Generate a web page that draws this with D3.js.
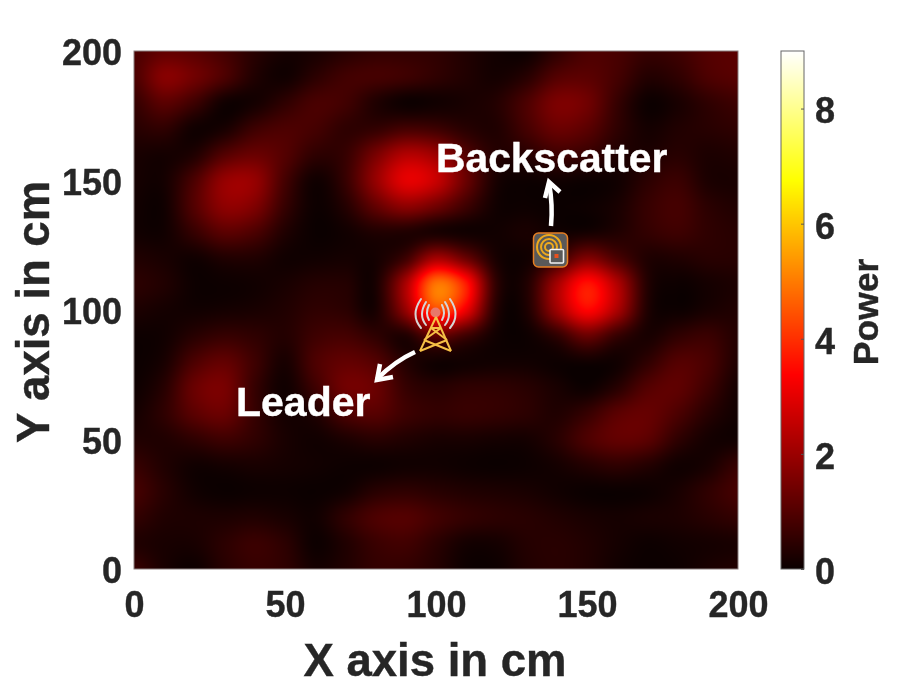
<!DOCTYPE html>
<html>
<head>
<meta charset="utf-8">
<script src="https://cdn.jsdelivr.net/npm/d3@7"></script>
<style>
  html, body { margin: 0; padding: 0; background: #fff; }
  #wrap { position: relative; width: 913px; height: 685px; overflow: hidden; }
  canvas, svg { position: absolute; left: 0; top: 0; }
  text { font-family: "Liberation Sans", Arial, sans-serif; font-weight: bold; }
</style>
</head>
<body>
<div id="wrap">
  <canvas id="heat" width="913" height="685"></canvas>
  <svg id="chart" width="913" height="685"></svg>
</div>
<script>
// grid positions, every 10 cm
const xValues = d3.range(0, 201, 10);
const yValues = d3.range(200, -1, -10);

// power at each grid point, top row is y = 200
const power = [
  [.9,1.2,1.1,.8,.4,.15,.2,.4,.55,.55,.5,.3,.1,.05,.5,.9,.85,.6,.7,1.0,1.1],
  [.9,1.7,1.4,.9,.3,.1,.45,.75,.8,.7,.5,.3,.15,.4,1.0,1.1,.8,.35,.5,.9,1.05],
  [.6,1.1,.7,.1,.15,.5,.85,.75,.3,.05,.1,.2,.35,.9,1.55,1.4,.6,.05,.2,.5,.7],
  [.4,.5,.1,.2,.7,.9,.8,.5,.55,.8,.7,.4,.3,.8,1.3,1.1,.5,.15,.3,.4,.5],
  [.2,.15,.3,1.0,1.3,1.0,.5,.6,1.5,2.3,2.0,1.0,.35,.4,.7,.6,.3,.25,.4,.25,.3],
  [.15,.15,.9,1.9,1.9,.8,.1,.6,1.9,3.0,2.6,1.3,.2,.05,.1,.05,.1,.45,.65,.25,.2],
  [.1,.1,1.0,1.8,1.6,.6,.05,.35,1.2,1.8,1.4,.7,.1,.05,.02,.05,.2,.6,.8,.45,.3],
  [.1,.1,.6,1.1,.9,.3,.02,.1,.3,.3,.2,.1,.1,.2,.1,.15,.3,.55,.7,.5,.4],
  [.3,.2,.1,.3,.3,.1,.1,.15,.15,.7,2.1,1.3,.2,.1,.6,1.6,.9,.3,.3,.4,.4],
  [.45,.3,.05,.05,.1,.2,.35,.35,.2,2.2,4.9,3.7,.5,.3,2.1,3.6,2.3,.35,.05,.15,.25],
  [.25,.15,.1,.15,.2,.3,.5,.45,.2,1.9,4.3,3.1,.35,.25,2.0,3.4,2.2,.3,.05,.2,.3],
  [.05,.1,.4,.6,.5,.35,.7,.8,.5,.3,1.2,.7,.1,.05,.5,1.3,.6,.2,.5,.65,.35],
  [.02,.2,.9,1.2,.7,.2,.9,1.2,1.0,.35,.1,.1,.1,.1,.05,.1,.1,.5,1.0,.85,.3],
  [.05,.4,1.3,1.5,.6,.1,.7,1.4,1.3,.6,.4,.5,.5,.4,.2,.05,.4,1.0,1.15,.7,.15],
  [.15,.5,1.1,1.3,.6,.15,.3,.9,1.05,.7,.55,.6,.55,.45,.3,.6,1.1,1.25,.9,.4,.1],
  [.3,.3,.5,.7,.5,.2,.1,.25,.4,.3,.2,.2,.15,.15,.4,.9,1.2,1.1,.5,.15,.1],
  [.6,.3,.1,.15,.2,.15,.1,.05,.05,.1,.1,.05,.02,.05,.15,.35,.5,.35,.1,.2,.6],
  [.8,.4,.1,.02,.05,.05,.02,.1,.4,.5,.4,.3,.25,.2,.1,.02,.02,.05,.2,.5,.8],
  [.55,.3,.25,.25,.3,.2,.1,.5,.9,1.0,.75,.55,.45,.4,.3,.2,.15,.2,.25,.4,.55],
  [.3,.2,.2,.45,.65,.45,.05,.3,.65,.75,.45,.15,.15,.35,.4,.3,.15,.05,.1,.15,.2],
  [.6,.2,.05,.4,.6,.5,.15,.3,.55,.55,.35,.05,.05,.3,.4,.3,.1,.02,.05,.2,.3]
];

const axisTicks = [0, 50, 100, 150, 200];
const powerTicks = [0, 2, 4, 6, 8];
const powerMax = 9;

// MATLAB hot colormap stops
const hotStops = [0, 3.375, 6.75, 9];
const hotColors = ["#0a0000", "#ff0000", "#ffff00", "#ffffff"];

const plot = { left: 134, right: 738, top: 51, bottom: 569 };
const bar = { left: 781, right: 804 };
const textColor = "#262626";

const x = d3.scaleLinear().domain([0, 200]).range([plot.left, plot.right]);
const y = d3.scaleLinear().domain([0, 200]).range([plot.bottom, plot.top]);
const powerScale = d3.scaleLinear().domain([0, powerMax]).range([plot.bottom, plot.top]);
const color = d3.scaleLinear().domain(hotStops).range(hotColors).clamp(true);

// Catmull-Rom between grid points
function cubic(p0, p1, p2, p3, t) {
  return 0.5 * (2 * p1 + (p2 - p0) * t + (2 * p0 - 5 * p1 + 4 * p2 - p3) * t * t + (3 * p1 - p0 - 3 * p2 + p3) * t * t * t);
}

function powerAt(xv, yv) {
  const cols = xValues.length, rows = yValues.length;
  const cf = Math.min(xv / 10, cols - 1.001), rf = Math.min((200 - yv) / 10, rows - 1.001);
  const c = Math.floor(cf), r = Math.floor(rf);
  const get = (i, j) => power[Math.max(0, Math.min(rows - 1, i))][Math.max(0, Math.min(cols - 1, j))];
  const vals = [-1, 0, 1, 2].map(dr =>
    cubic(get(r + dr, c - 1), get(r + dr, c), get(r + dr, c + 1), get(r + dr, c + 2), cf - c));
  return Math.max(0, cubic(vals[0], vals[1], vals[2], vals[3], rf - r));
}

// Heatmap and colorbar go on the canvas
const ctx = document.getElementById("heat").getContext("2d");
for (let py = plot.top; py < plot.bottom; py++) {
  for (let px = plot.left; px < plot.right; px++) {
    ctx.fillStyle = color(powerAt(x.invert(px + 0.5), y.invert(py + 0.5)));
    ctx.fillRect(px, py, 1, 1);
  }
  ctx.fillStyle = color(powerScale.invert(py + 0.5));
  ctx.fillRect(bar.left, py, bar.right - bar.left, 1);
}

const svg = d3.select("#chart");

// Frames
svg.append("rect")
  .attr("x", plot.left).attr("y", plot.top)
  .attr("width", plot.right - plot.left).attr("height", plot.bottom - plot.top)
  .attr("fill", "none").attr("stroke", "#8a7f7f").attr("stroke-width", 1);

svg.append("rect")
  .attr("x", bar.left).attr("y", plot.top)
  .attr("width", bar.right - bar.left).attr("height", plot.bottom - plot.top)
  .attr("fill", "none").attr("stroke", "#666").attr("stroke-width", 1);

// Axes
const xAxis = svg.append("g")
  .attr("transform", "translate(0," + plot.bottom + ")")
  .call(d3.axisBottom(x).tickValues(axisTicks).tickSize(0).tickPadding(22));

const yAxis = svg.append("g")
  .attr("transform", "translate(" + plot.left + ",2)")
  .call(d3.axisLeft(y).tickValues(axisTicks).tickSize(0).tickPadding(12));

const barAxis = svg.append("g")
  .attr("transform", "translate(" + bar.right + ",0)")
  .call(d3.axisRight(powerScale).tickValues(powerTicks).tickSizeInner(-3).tickSizeOuter(0).tickPadding(11));

[xAxis, yAxis, barAxis].forEach(g => {
  g.select(".domain").remove();
  g.selectAll("text").attr("fill", textColor).attr("stroke", textColor).attr("stroke-width", 0.4)
    .style("font-size", "36px").style("font-family", "Liberation Sans").style("font-weight", "bold");
  g.selectAll("line").attr("stroke", "#555");
});
// colorbar labels sit a little under their ticks
barAxis.selectAll("text").attr("dy", "0.40em");

// Axis labels
svg.append("text")
  .attr("x", 435).attr("y", 676)
  .attr("text-anchor", "middle").attr("fill", textColor).attr("stroke", textColor).attr("stroke-width", 0.4)
  .style("font-size", "45.5px")
  .text("X axis in cm");

svg.append("text")
  .attr("transform", "translate(49,312) rotate(-90)")
  .attr("text-anchor", "middle").attr("fill", textColor).attr("stroke", textColor).attr("stroke-width", 0.4)
  .style("font-size", "45.5px")
  .text("Y axis in cm");

svg.append("text")
  .attr("transform", "translate(878,312) rotate(-90)")
  .attr("text-anchor", "middle").attr("fill", textColor).attr("stroke", textColor).attr("stroke-width", 0.4)
  .style("font-size", "35.5px")
  .text("Power");

// Annotations
svg.append("text").attr("x", 436).attr("y", 172)
  .attr("fill", "#fff").attr("stroke", "#fff").attr("stroke-width", 0.4)
  .style("font-size", "40.8px").text("Backscatter");

svg.append("text").attr("x", 236).attr("y", 416)
  .attr("fill", "#fff").attr("stroke", "#fff").attr("stroke-width", 0.4)
  .style("font-size", "41px").text("Leader");

const arrows = svg.append("g")
  .attr("fill", "none").attr("stroke", "#fff").attr("stroke-width", 4.5)
  .attr("stroke-linecap", "butt").attr("stroke-linejoin", "miter");
arrows.append("path").attr("d", "M551,226 Q553,205 549,183");
arrows.append("path").attr("d", "M545,198 L549,182 L560,192");
arrows.append("path").attr("d", "M415,352 Q395,361 377,379");
arrows.append("path").attr("d", "M380,364 L377,380 L393,377");

// Tower icon
const tower = svg.append("g").attr("fill", "none");
tower.append("circle").attr("cx", 435.5).attr("cy", 312.5).attr("r", 5).attr("fill", "#e8786a").attr("stroke", "none");
const waves = tower.append("g").attr("stroke", "#d5d5d5").attr("stroke-width", 2).attr("stroke-linecap", "round");
[
  "M421,299 Q410,315 421,328", "M426,302 Q418,315 426,325", "M429,305 Q425,313 429,320",
  "M450,299 Q461,315 450,328", "M445,302 Q453,315 445,325", "M442,305 Q446,313 442,320"
].forEach(d => waves.append("path").attr("d", d));
const legs = tower.append("g").attr("stroke", "#f6c046").attr("stroke-width", 2);
[
  "M436,317 L420,351", "M436,317 L451,351",
  "M431,328 L441,328", "M431,328 L447,340", "M441,328 L424,340", "M424,340 L451,351", "M447,340 L420,351"
].forEach(d => legs.append("path").attr("d", d));

// Backscatter icon
const tag = svg.append("g");
tag.append("rect").attr("x", 533.5).attr("y", 233).attr("width", 34).attr("height", 34).attr("rx", 5)
  .attr("fill", "#595959").attr("stroke", "#e67e22").attr("stroke-width", 1.5);
const rings = tag.append("g").attr("fill", "none").attr("stroke", "#eeaa1c").attr("stroke-width", 2);
[12, 8, 4].forEach(r => rings.append("circle").attr("cx", 549).attr("cy", 247).attr("r", r));
tag.append("rect").attr("x", 550).attr("y", 249.5).attr("width", 13.5).attr("height", 13.5).attr("rx", 1)
  .attr("fill", "#595959").attr("stroke", "#f2f2f2").attr("stroke-width", 1.6);
tag.append("rect").attr("x", 554.5).attr("y", 254).attr("width", 4).attr("height", 4).attr("fill", "#e8501e");
</script>
</body>
</html>
